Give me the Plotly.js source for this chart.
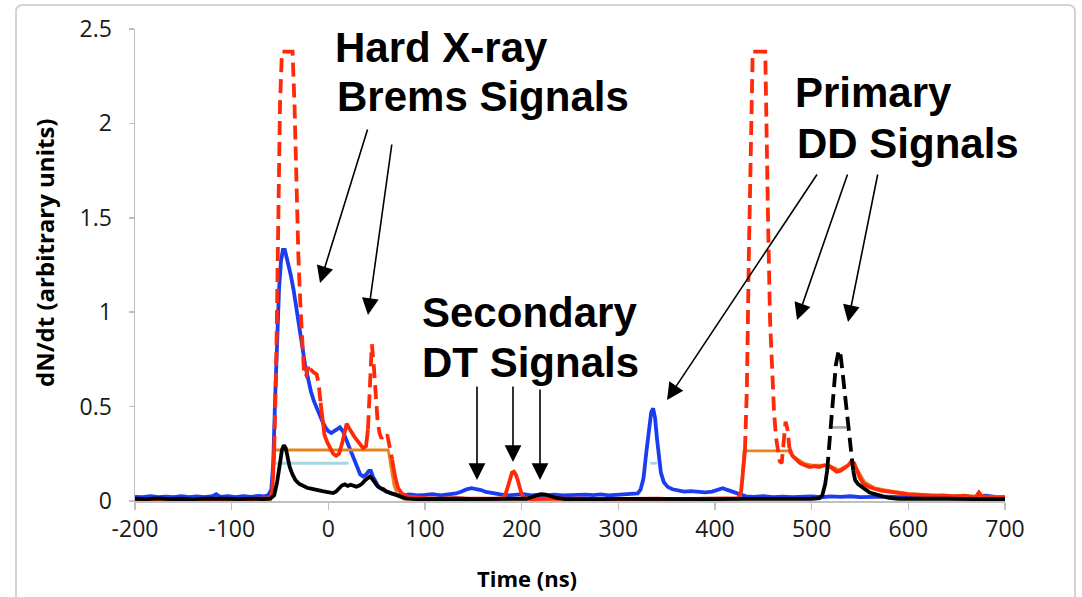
<!DOCTYPE html>
<html>
<head>
<meta charset="utf-8">
<script src="https://cdn.plot.ly/plotly-3.0.1.min.js"></script>
<style>
  html, body { margin: 0; padding: 0; background: #ffffff; }
  #chart { width: 1082px; height: 597px; }
</style>
</head>
<body>
<div id="chart"></div>
<script>
// ---- Detector traces: time (ns) and dN/dt (arbitrary units) ----

// Blue channel
const blueTime = [-200,-192,-184,-176,-168,-160,-152,-144,-136,-128,-120,-116,-112,-104,-96,-88,-80,-72,-66,-62,-59,-57,-55,-53,-51,-49,-47,-45,-43,-41,-39,-36,-33,-30,-27,-24,-21,-18,-15,-12,-9,-6,-3,0,3,6,9,12,15,18,21,24,27,30,33,36,39,42,44,46,49,52,56,60,65,70,76,84,92,100,108,116,124,132,138,143,148,153,158,163,170,178,186,194,202,210,218,226,234,242,250,258,266,274,282,290,298,306,314,320,323,326,329,332,334,336,338,340,342,344,347,351,356,362,368,375,382,390,397,403,408,412,417,422,427,432,440,450,460,470,480,490,500,510,520,530,540,550,560,570,580,590,600,610,620,630,640,650,660,670,680,690,700];
const blueSignal = [0.022,0.02,0.025,0.02,0.023,0.02,0.026,0.021,0.024,0.02,0.026,0.036,0.022,0.025,0.02,0.026,0.022,0.027,0.025,0.032,0.06,0.2,0.55,0.9,1.12,1.27,1.33,1.33,1.29,1.24,1.2,1.12,1.03,0.93,0.82,0.72,0.64,0.58,0.53,0.49,0.45,0.42,0.39,0.37,0.36,0.37,0.385,0.39,0.37,0.33,0.29,0.25,0.21,0.17,0.14,0.13,0.14,0.16,0.16,0.13,0.1,0.075,0.06,0.05,0.04,0.035,0.03,0.035,0.03,0.032,0.036,0.03,0.034,0.04,0.05,0.062,0.068,0.065,0.058,0.048,0.04,0.035,0.03,0.032,0.036,0.03,0.033,0.03,0.034,0.03,0.032,0.03,0.034,0.031,0.035,0.03,0.033,0.031,0.035,0.04,0.06,0.12,0.26,0.4,0.47,0.49,0.44,0.33,0.22,0.15,0.1,0.075,0.062,0.058,0.05,0.052,0.048,0.046,0.05,0.058,0.068,0.06,0.05,0.045,0.035,0.025,0.022,0.025,0.02,0.023,0.02,0.022,0.025,0.02,0.024,0.022,0.025,0.02,0.022,0.02,0.023,0.02,0.022,0.02,0.024,0.02,0.022,0.02,0.025,0.02,0.028,0.022,0.02];

// Red channel
const redTime = [-200,-185,-170,-155,-140,-125,-110,-95,-80,-66,-60,-58,-57,-56,-54,-52,-50,-48,-37,-35,-33,-31,-29,-27,-25,-23,-21,-19,-17,-15,-12,-10,-8,-6,-4,-1,2,5,8,11,14,17,19,21,24,27,30,33,36,39,41,43,45,47,49,51,53,55,57,59,61,63,66,69,72,76,82,90,100,115,130,145,160,172,180,183,186,188,190,192,194,196,198,200,203,210,225,240,260,280,300,320,340,360,380,400,415,424,427,429,431,433,435,437,439,452,453,455,457,459,461,463,465,467,469,471,473,475,477,480,484,488,493,498,503,508,513,518,522,526,530,534,538,541,544,547,550,554,559,565,572,580,590,600,612,624,636,648,658,666,670,673,676,685,695,700];
const redSignal = [0.01,0.012,0.01,0.011,0.01,0.012,0.01,0.011,0.01,0.012,0.015,0.05,0.15,0.27,0.7,1.4,2.1,2.38,2.38,2.1,1.65,1.3,1.05,0.82,0.66,0.66,0.71,0.67,0.69,0.68,0.67,0.62,0.52,0.42,0.35,0.31,0.28,0.25,0.24,0.25,0.3,0.37,0.41,0.39,0.36,0.34,0.32,0.3,0.28,0.29,0.38,0.6,0.83,0.72,0.55,0.42,0.36,0.33,0.35,0.34,0.35,0.3,0.22,0.13,0.07,0.04,0.025,0.02,0.015,0.012,0.015,0.012,0.01,0.012,0.015,0.03,0.08,0.12,0.15,0.155,0.14,0.11,0.07,0.035,0.015,0.01,0.012,0.01,0.012,0.01,0.012,0.01,0.012,0.01,0.012,0.01,0.012,0.015,0.05,0.16,0.27,0.6,1.3,2.0,2.38,2.38,2.0,1.45,0.95,0.68,0.48,0.34,0.26,0.21,0.2,0.3,0.42,0.38,0.28,0.24,0.22,0.2,0.19,0.18,0.185,0.18,0.19,0.185,0.17,0.155,0.16,0.175,0.19,0.21,0.2,0.16,0.12,0.09,0.075,0.065,0.055,0.05,0.042,0.035,0.032,0.028,0.03,0.025,0.028,0.02,0.022,0.045,0.025,0.022,0.02,0.018];
// Time windows in which the red trace is drawn dashed
const redDashWindows = [[-56, -8], [41, 66], [431, 477]];

// Orange gate level
const orangeTime = [-200,-100,-60,-58,-56,62,65,68,72,78,200,300,426,428,430,476,480,486,492,500,510,520,528,536,542,548,555,565,580,600,630,660,700];
const orangeSignal = [0.008,0.008,0.008,0.05,0.27,0.27,0.17,0.08,0.03,0.01,0.01,0.01,0.01,0.1,0.265,0.265,0.24,0.22,0.2,0.19,0.19,0.185,0.165,0.185,0.205,0.16,0.1,0.07,0.055,0.04,0.03,0.028,0.02];

// Light-blue reference levels
const cyanTime = [-55, 21, null, 333, 340];
const cyanLevel = [0.2, 0.2, null, 0.2, 0.2];

// Grey reference level on the black peak
const greyTime = [521, 536];
const greyLevel = [0.39, 0.39];

// Black channel
const blackTime = [-200,-188,-176,-164,-152,-140,-128,-116,-104,-92,-80,-68,-60,-56,-53,-50,-48,-46,-44,-42,-40,-37,-34,-30,-26,-22,-18,-14,-10,-6,-2,2,5,8,11,14,17,20,23,26,29,32,35,38,41,43,45,48,51,54,57,60,63,66,70,75,80,90,105,120,135,150,165,180,195,205,210,215,220,225,230,236,245,260,280,300,320,340,360,380,400,420,440,460,480,500,508,511,514,516,518,519.5,522,525,528,530,532,534.5,537.5,540,541.5,543,545,548,553,560,570,580,590,610,640,670,700];
const blackSignal = [0.012,0.01,0.014,0.01,0.012,0.009,0.013,0.01,0.012,0.01,0.013,0.01,0.012,0.03,0.1,0.2,0.27,0.295,0.28,0.23,0.18,0.14,0.11,0.09,0.078,0.07,0.066,0.06,0.056,0.052,0.048,0.045,0.042,0.05,0.07,0.082,0.088,0.08,0.086,0.08,0.076,0.082,0.092,0.11,0.125,0.13,0.12,0.095,0.078,0.068,0.062,0.05,0.044,0.04,0.03,0.02,0.014,0.01,0.012,0.01,0.012,0.01,0.011,0.01,0.012,0.012,0.02,0.03,0.036,0.034,0.025,0.016,0.01,0.012,0.01,0.011,0.01,0.012,0.01,0.011,0.01,0.011,0.01,0.011,0.01,0.012,0.015,0.03,0.09,0.16,0.3,0.39,0.55,0.72,0.8,0.77,0.68,0.55,0.39,0.3,0.23,0.16,0.11,0.09,0.07,0.045,0.03,0.016,0.012,0.01,0.012,0.01,0.01];
const blackDashWindows = [[516, 543]];

// Axis tick labels
const xTickValues = [-200,-100,0,100,200,300,400,500,600,700];
const xTickLabels = ['-200','-100','0','100','200','300','400','500','600','700'];
const yTickValues = [0,0.5,1,1.5,2,2.5];
const yTickLabels = ['0','0.5','1','1.5','2','2.5'];

// ---- helpers: split a trace into solid / dashed parts by time window ----
function inWindows(t, windows) {
  return windows.some(w => t >= w[0] && t <= w[1]);
}
function dashedPart(times, values, windows) {
  return values.map((v, i) => inWindows(times[i], windows) ? v : null);
}
function solidPart(times, values, windows) {
  return values.map((v, i) => {
    const t = times[i];
    const strictlyInside = windows.some(w => t > w[0] && t < w[1]);
    return strictlyInside ? null : v;
  });
}

const BLUE = '#1b3df2', RED = '#ff2a0a', ORANGE = '#e5831f', CYAN = '#a3d6e3', GREY = '#a9a9a9', BLACK = '#000000';
const LW = 3.8;
const DASH = '14px,7px';

const traces = [
  { x: cyanTime, y: cyanLevel, mode: 'lines', line: { color: CYAN, width: 2.8 }, connectgaps: false },
  { x: blueTime, y: blueSignal, mode: 'lines', line: { color: BLUE, width: LW } },
  { x: orangeTime, y: orangeSignal, mode: 'lines', line: { color: ORANGE, width: 2.8 } },
  { x: redTime, y: solidPart(redTime, redSignal, redDashWindows), mode: 'lines', line: { color: RED, width: LW }, connectgaps: false },
  { x: redTime, y: dashedPart(redTime, redSignal, redDashWindows), mode: 'lines', line: { color: RED, width: LW, dash: DASH }, connectgaps: false },
  { x: greyTime, y: greyLevel, mode: 'lines', line: { color: GREY, width: 2.8 } },
  { x: blackTime, y: solidPart(blackTime, blackSignal, blackDashWindows), mode: 'lines', line: { color: BLACK, width: LW }, connectgaps: false },
  { x: blackTime, y: dashedPart(blackTime, blackSignal, blackDashWindows), mode: 'lines', line: { color: BLACK, width: LW, dash: DASH }, connectgaps: false }
];

// ---- layout ----
const W = 1082, H = 597;
const M = { l: 135, r: 77, t: 29, b: 96 };
const PW = W - M.l - M.r, PH = H - M.t - M.b;
const px = x => (x - M.l) / PW;          // page pixel -> paper x
const py = y => (H - M.b - y) / PH;      // page pixel -> paper y

const LABEL_FONT = { family: 'Liberation Sans, Arial, sans-serif', size: 42, color: '#000', weight: 700 };
function label(text, left, midY) {
  return { text: text, xref: 'paper', yref: 'paper', x: px(left), y: py(midY),
           xanchor: 'left', yanchor: 'middle', showarrow: false, font: LABEL_FONT };
}
function arrow(tailX, tailY, tipX, tipY) {
  return { text: '', xref: 'paper', yref: 'paper', axref: 'paper', ayref: 'paper',
           x: px(tipX), y: py(tipY), ax: px(tailX), ay: py(tailY),
           showarrow: true, arrowhead: 2, arrowsize: 2.1, arrowwidth: 1.6, arrowcolor: '#000',
           standoff: 0, startstandoff: 0 };
}

const annotations = [
  label('Hard X-ray', 333, 47),
  label('Brems Signals', 335, 97),
  label('Secondary', 420, 312),
  label('DT Signals', 420, 362),
  label('Primary', 793, 93),
  label('DD Signals', 795, 143),
  arrow(368, 128, 320, 283),
  arrow(392, 143, 368, 315),
  arrow(477, 385, 477, 480),
  arrow(513, 385, 513, 462),
  arrow(540, 388, 540, 480),
  arrow(818, 173, 667, 400),
  arrow(848, 173, 797, 320),
  arrow(878, 173, 848, 322),
  { text: 'Time (ns)', xref: 'paper', yref: 'paper', x: px(527), y: py(578),
    xanchor: 'center', yanchor: 'middle', showarrow: false,
    font: { family: 'Open Sans, sans-serif', size: 22, color: '#000', weight: 700 } },
  { text: 'dN/dt (arbitrary units)', xref: 'paper', yref: 'paper', x: px(45), y: py(253),
    xanchor: 'center', yanchor: 'middle', showarrow: false, textangle: -90,
    font: { family: 'Open Sans, sans-serif', size: 24, color: '#000', weight: 700 } }
];

// chart-area frame with rounded top corners
const fx0 = px(16), fx1 = px(1075), fy0 = py(640), fy1 = py(5);
const rx = 7 / PW, ry = 7 / PH;
const framePath = `M ${fx0},${fy0} L ${fx0},${fy1 - ry} Q ${fx0},${fy1} ${fx0 + rx},${fy1} ` +
                  `L ${fx1 - rx},${fy1} Q ${fx1},${fy1} ${fx1},${fy1 - ry} L ${fx1},${fy0} Z`;

const axisCommon = {
  showgrid: false, zeroline: false, showline: true, linecolor: '#bfbfbf', linewidth: 1.5,
  ticks: 'outside', tickcolor: '#bfbfbf', tickwidth: 1.5,
  tickfont: { family: 'Open Sans, sans-serif', size: 23, color: '#1a1a1a' },
  fixedrange: true
};

const layout = {
  width: W, height: H, margin: M,
  paper_bgcolor: '#ffffff', plot_bgcolor: '#ffffff',
  showlegend: false,
  xaxis: Object.assign({}, axisCommon, {
    range: [-200, 700], tickmode: 'array', tickvals: xTickValues, ticktext: xTickLabels, ticklen: 7
  }),
  yaxis: Object.assign({}, axisCommon, {
    range: [0, 2.5], tickmode: 'array', tickvals: yTickValues, ticktext: yTickLabels, ticklen: 5,
    ticklabelstandoff: 12
  }),
  shapes: [{ type: 'path', xref: 'paper', yref: 'paper', path: framePath,
             line: { color: '#d4d4d4', width: 2 }, fillcolor: 'rgba(0,0,0,0)', layer: 'below' }],
  annotations: annotations
};

Plotly.newPlot('chart', traces, layout, { staticPlot: true, displayModeBar: false });
</script>
</body>
</html>
